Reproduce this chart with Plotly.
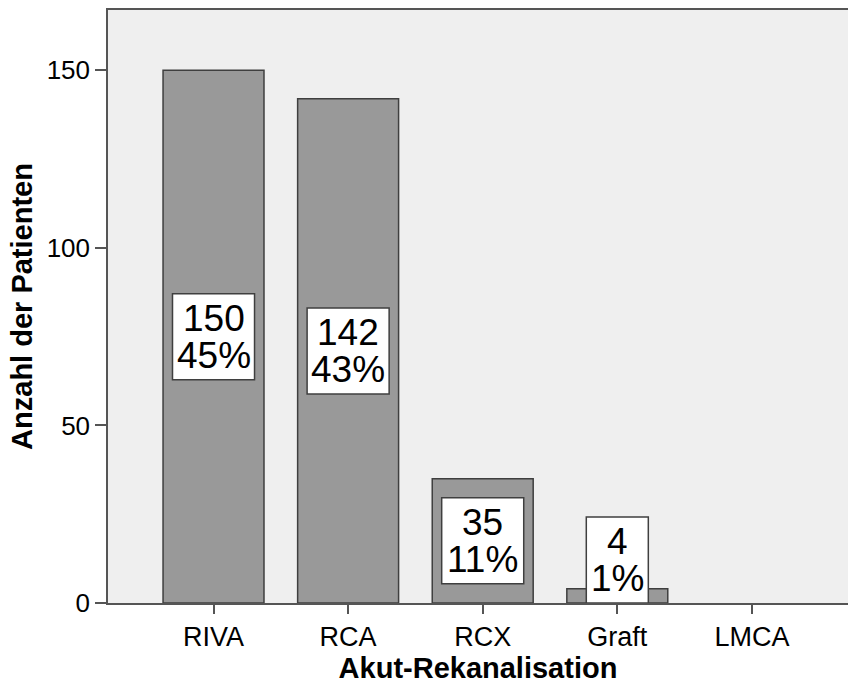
import plotly.graph_objects as go

# Acute recanalisation: number of patients per vessel
categories = ["RIVA", "RCA", "RCX", "Graft", "LMCA"]
patients = [150, 142, 35, 4, 0]
y_ticks = [0, 50, 100, 150]

total = sum(patients)
percents = [round(v / total * 100) for v in patients]

FONT = "Liberation Sans, Arial, sans-serif"
W, H = 848, 686
M_L, M_R, M_T, M_B = 108, 0, 10, 83
Y_MAX = 167
plot_h = H - M_T - M_B
px_per_unit = plot_h / Y_MAX

LABEL_SIZE = 37
BOX_HALF_H = 43          # half height of the value box in px
LINE_GAP = 18.5          # offset of each text line from the box centre in px

# approximate Arial advance widths (em) for the label glyphs
ADV = {"%": 0.889}


def text_width(s, size):
    return sum(ADV.get(c, 0.556) for c in s) * size


fig = go.Figure()
fig.add_trace(go.Bar(
    x=list(range(len(categories))),
    y=patients,
    width=0.75,
    marker=dict(color="#999999",
                line=dict(color="#3f3f3f", width=[1.5 if v else 0 for v in patients])),
    hoverinfo="skip",
))

shapes = []
annotations = []
for i, (v, p) in enumerate(zip(patients, percents)):
    if v == 0:
        continue
    # label centred on the bar, but never dipping below the baseline
    y_c = max(v / 2, BOX_HALF_H / px_per_unit)
    l1, l2 = str(v), f"{p}%"
    w = max(text_width(l1, 36), text_width(l2, 36)) + 10
    shapes.append(dict(
        type="rect", xref="x", yref="y",
        xsizemode="pixel", ysizemode="pixel",
        xanchor=i, yanchor=y_c,
        x0=-w / 2, x1=w / 2, y0=-BOX_HALF_H, y1=BOX_HALF_H,
        fillcolor="white", line=dict(color="#3f3f3f", width=1.5),
        layer="above",
    ))
    for txt, sh in ((l1, LINE_GAP), (l2, -LINE_GAP)):
        annotations.append(dict(
            x=i, y=y_c, xref="x", yref="y", text=txt, showarrow=False,
            yshift=sh, xanchor="center", yanchor="middle",
            font=dict(family=FONT, size=LABEL_SIZE, color="black"),
        ))

fig.update_layout(
    width=W, height=H,
    margin=dict(l=M_L, r=M_R, t=M_T, b=M_B),
    paper_bgcolor="white",
    plot_bgcolor="#efefef",
    showlegend=False,
    shapes=shapes,
    annotations=annotations,
    font=dict(family=FONT, color="black"),
    xaxis=dict(
        range=[-0.784, 4.714],
        tickmode="array",
        tickvals=list(range(len(categories))),
        ticktext=categories,
        ticks="outside", ticklen=9, tickwidth=1.5, tickcolor="#555555",
        showline=True, linecolor="#555555", linewidth=1.5,
        mirror=True,
        showgrid=False, zeroline=False,
        tickfont=dict(size=27, family=FONT),
        title=dict(text="<b>Akut-Rekanalisation</b>",
                   font=dict(size=29, family=FONT), standoff=4),
    ),
    yaxis=dict(
        range=[0, Y_MAX],
        tickmode="array",
        tickvals=y_ticks,
        ticks="outside", ticklen=11, tickwidth=1.5, tickcolor="#555555",
        showline=True, linecolor="#555555", linewidth=1.5,
        showgrid=False, zeroline=False,
        tickfont=dict(size=26, family=FONT),
        title=dict(text="<b>Anzahl der Patienten</b>",
                   font=dict(size=29, family=FONT), standoff=6),
    ),
)

fig.write_html("out.html")
